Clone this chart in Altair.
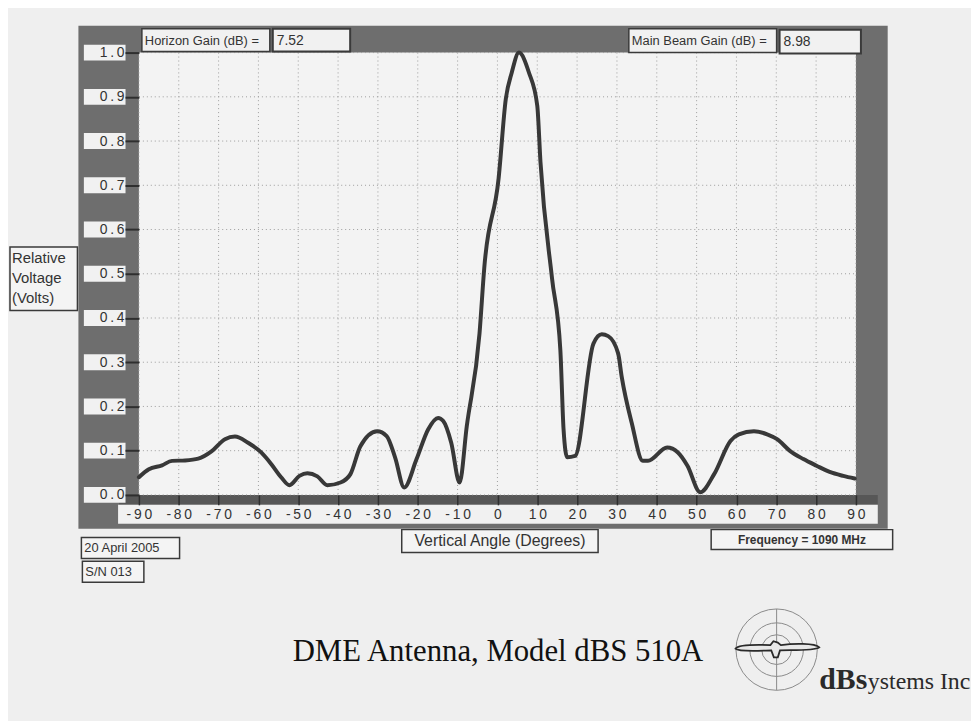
import altair as alt
import pandas as pd

# ---- data ----
angles = [-90, -87.5, -84.2, -81.7, -78.4, -75.1, -71.7, -68.4, -65.9, -62.6,
          -59.3, -56.8, -54.3, -52.2, -49.7, -47.7, -45.2, -42.7, -39.4, -36.9,
          -34.4, -30.2, -27.8, -25.7, -23.4, -20.3, -17.4, -14.9, -13.6, -11.6,
          -9.5, -7.7, -4.5, -3.3, 0.3, 2.1, 3.6, 5.4, 7.9, 10.0, 10.8, 13.7,
          15.8, 16.6, 17.5, 19.5, 24.1, 26.2, 27.8, 30.3, 31.2, 33.7, 36.5,
          37.8, 42.6, 45.3, 47.7, 50.9, 54.4, 58.5, 60.6, 64.4, 67.7, 70.2,
          73.5, 76.8, 80.1, 83.4, 86.8, 89.7]
voltages = [0.040, 0.058, 0.067, 0.077, 0.078, 0.082, 0.099, 0.126, 0.132, 0.118,
            0.096, 0.070, 0.040, 0.022, 0.043, 0.049, 0.042, 0.022, 0.028, 0.047,
            0.110, 0.144, 0.133, 0.085, 0.017, 0.081, 0.148, 0.174, 0.167, 0.118,
            0.028, 0.155, 0.365, 0.514, 0.716, 0.895, 0.955, 1.000, 0.955, 0.880,
            0.753, 0.490, 0.327, 0.148, 0.085, 0.088, 0.342, 0.363, 0.359, 0.320,
            0.267, 0.163, 0.077, 0.077, 0.107, 0.096, 0.066, 0.006, 0.047, 0.122,
            0.137, 0.144, 0.137, 0.126, 0.099, 0.081, 0.066, 0.052, 0.043, 0.037]
x_ticks = list(range(-90, 91, 10))
y_ticks = [round(i * 0.1, 1) for i in range(11)]

horizon_label = "Horizon Gain (dB) ="
horizon_gain = "7.52"
beam_label = "Main Beam Gain (dB) ="
beam_gain = "8.98"
y_title_lines = ["Relative", "Voltage", "(Volts)"]
x_title = "Vertical Angle (Degrees)"
frequency_text = "Frequency  =  1090  MHz"
date_text = "20  April  2005"
serial_text = "S/N  013"
title_text = "DME Antenna, Model dBS 510A"
logo_big = "dBs"
logo_small = "ystems Inc"

# ---- layout ----
W, H = 723, 446
SANS = "Liberation Sans"
SERIF = "Liberation Serif"
INK = "#333333"
FRAME = "#6e6e6e"
PAPER = "#f3f3f3"

curve = pd.DataFrame({"angle": angles, "v": voltages})
xt = pd.DataFrame({"angle": x_ticks})
yt = pd.DataFrame({"v": y_ticks})
one = pd.DataFrame({"k": [0]})

xscale = alt.Scale(domain=[-90, 90], nice=False, zero=False)
yscale = alt.Scale(domain=[0, 1], nice=False)

# typewriter-like spaced digits, plain hyphen for negatives
spaced = "join(split(replace(datum.label, '\u2212', '-'), ''), '\u2009')"

x_axis = alt.Axis(
    values=x_ticks, orient="bottom", title=None, domain=False, grid=False,
    tickSize=10, tickWidth=1.5, tickColor="#2e2e2e", labelPadding=3,
    labelFont=SANS, labelFontSize=14, labelColor=INK, labelFlush=False,
    labelOverlap=False, labelExpr=spaced, zindex=1)
y_axis = alt.Axis(
    values=y_ticks, format=".1f", orient="left", title=None, domain=False,
    grid=False, tickSize=14, tickWidth=2, tickColor="#2e2e2e",
    labelPadding=1, labelFont=SANS, labelFontSize=14, labelColor=INK,
    labelOverlap=False, labelExpr=spaced, zindex=1)


def box(x0, x1, y0, y1, fill, stroke=None, sw=1.0):
    kw = dict(fill=fill)
    if stroke:
        kw.update(stroke=stroke, strokeWidth=sw)
    return alt.Chart(one).mark_rect(**kw).encode(
        x=alt.value(x0), x2=alt.value(x1), y=alt.value(y0), y2=alt.value(y1))


def label(txt, x, y, size, align="left", font=SANS, weight="normal",
          color=INK, baseline="middle"):
    return alt.Chart(one).mark_text(
        text=txt, align=align, baseline=baseline, font=font, fontSize=size,
        fontWeight=weight, color=color).encode(x=alt.value(x), y=alt.value(y))


layers = []
# gray instrument frame
layers.append(box(-61, 755, -27, 480, FRAME))
layers.append(box(0, W, 0, H, PAPER))
layers.append(box(-20, 745, H, H + 10, "#575757"))
layers.append(box(-21, 745, H + 10, H + 29, "#f1f1f1"))
# white boxes behind y tick labels
layers.append(alt.Chart(yt).mark_tick(
    orient="horizontal", thickness=16, size=42, color="#f1f1f1", opacity=1
).encode(y=alt.Y("v:Q", scale=yscale, axis=y_axis), x=alt.value(-34.5)))

# dotted grid
layers.append(alt.Chart(xt).mark_rule(
    color="#9c9c9c", strokeWidth=1, strokeDash=[1, 3]
).encode(x=alt.X("angle:Q", scale=xscale, axis=x_axis),
         y=alt.value(0), y2=alt.value(H)))
layers.append(alt.Chart(yt).mark_rule(
    color="#9c9c9c", strokeWidth=1, strokeDash=[1, 3]
).encode(y=alt.Y("v:Q", scale=yscale, axis=y_axis),
         x=alt.value(0), x2=alt.value(W)))

# the pattern
layers.append(alt.Chart(curve).mark_line(
    color="#383838", strokeWidth=4, interpolate="monotone",
    strokeJoin="round", strokeCap="round"
).encode(
    x=alt.X("angle:Q", scale=xscale, axis=x_axis),
    y=alt.Y("v:Q", scale=yscale, axis=y_axis),
))

# top boxes
layers.append(box(3, 132, -24, -1, "#f1f1f1", "#3a3a3a", 1.5))
layers.append(box(135, 213, -24, -1, "#f1f1f1", "#3a3a3a", 2))
layers.append(box(494, 643, -24, 0, "#f1f1f1", "#3a3a3a", 1.5))
layers.append(box(646, 728, -23, 1, "#f1f1f1", "#3a3a3a", 2))
layers.append(label(horizon_label, 6, -12, 13))
layers.append(label(horizon_gain, 139, -12, 14))
layers.append(label(beam_label, 497, -12, 13))
layers.append(label(beam_gain, 650, -11, 14))

# y title box
layers.append(box(-130, -62, 196, 260, "#f4f4f4", "#3a3a3a", 1.5))
for i, t in enumerate(y_title_lines):
    layers.append(label(t, -128, 207 + 20 * i, 15))

# bottom boxes
layers.append(box(-58, 41, 489, 510, "#f4f4f4", "#3a3a3a", 1.5))
layers.append(label(date_text, -55, 500, 13))
layers.append(box(-57, 5, 513, 534, "#f4f4f4", "#3a3a3a", 1.5))
layers.append(label(serial_text, -54, 524, 13))
layers.append(box(265, 463, 481, 504, "#f4f4f4", "#3a3a3a", 1.5))
layers.append(label(x_title, 364, 493, 16, align="center"))
layers.append(box(577, 760, 481, 501, "#f4f4f4", "#3a3a3a", 1.5))
layers.append(label(frequency_text, 668.5, 491.5, 12, align="center", weight="bold"))

# caption and logo
layers.append(label(title_text, 155, 613, 31, font=SERIF, baseline="alphabetic",
                    color="#111111"))
for d in (82, 54, 30):
    layers.append(alt.Chart(one).mark_point(
        shape="circle", size=d * d, filled=False, color="#8a8a8a", strokeWidth=1, opacity=1
    ).encode(x=alt.value(643), y=alt.value(602)))
layers.append(alt.Chart(one).mark_rule(color="#8a8a8a", strokeWidth=1).encode(
    x=alt.value(643), y=alt.value(561), y2=alt.value(643)))
bird = ("M-0.92,0 C-0.85,-0.1 -0.4,-0.09 -0.12,-0.08 L-0.05,-0.17 L0.05,-0.14 "
        "L0.12,-0.08 C0.4,-0.12 0.9,-0.13 1.0,-0.03 C0.9,0.05 0.4,0.03 0.1,0.04 "
        "L0.05,0.2 L-0.04,0.2 L-0.1,0.04 C-0.4,0.05 -0.85,0.08 -0.92,0 Z")
layers.append(alt.Chart(one).mark_point(
    shape=bird, size=88 * 88, filled=True, fill="#e8e8e8", stroke="#2a2a2a",
    strokeWidth=1.8, opacity=1
).encode(x=alt.value(642), y=alt.value(601)))
layers.append(label(logo_big, 686, 642, 30, font=SERIF, weight="bold",
                    baseline="alphabetic", color="#2a2a2a"))
layers.append(label(logo_small, 735, 642, 24, font=SERIF, baseline="alphabetic",
                    color="#2a2a2a"))

chart = alt.layer(*layers).properties(
    width=W, height=H,
    background="#efefef",
    padding={"left": 132, "top": 42, "right": 116, "bottom": 225},
    autosize=alt.AutoSizeParams(type="none"),
).configure_view(stroke=None)

chart.save("out.html", embed_options={"renderer": "svg", "actions": False})
